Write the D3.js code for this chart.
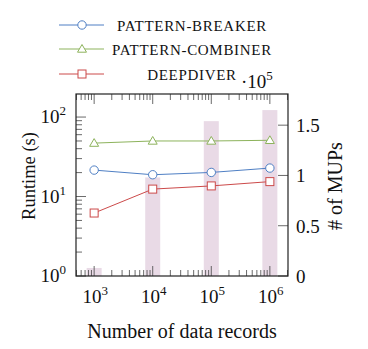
<!DOCTYPE html>
<html>
<head>
<meta charset="utf-8">
<script src="https://cdn.jsdelivr.net/npm/d3@7"></script>
<style>
  body { margin: 0; background: #fff; }
  text { font-family: "Liberation Serif", "Times New Roman", serif; fill: #111; }
</style>
</head>
<body>
<svg id="chart" width="368" height="349"></svg>
<script>
// data
const records = [1e3, 1e4, 1e5, 1e6];
const patternBreaker = [21.5, 18.8, 20.1, 22.8];
const patternCombiner = [47, 50, 50, 51];
const deepDiver = [6.2, 12.4, 13.6, 15.4];
const mups = [0.08, 0.98, 1.54, 1.65]; // x 10^5
const xTickExps = [3, 4, 5, 6];
const yTickExps = [0, 1, 2];
const rightTicks = [0, 0.5, 1, 1.5];
const rightTickLabels = ['0', '0.5', '1', '1.5'];

const series = [
  { name: 'PATTERN-BREAKER', values: patternBreaker, color: '#4f7fc4', marker: 'circle' },
  { name: 'PATTERN-COMBINER', values: patternCombiner, color: '#8db35c', marker: 'triangle' },
  { name: 'DEEPDIVER', values: deepDiver, color: '#cc4a4a', marker: 'square' }
];

const svg = d3.select('#chart');
const plot = { left: 76, right: 288, top: 94, bottom: 276 };

const x = d3.scaleLog().domain([490, 2.04e6]).range([plot.left, plot.right]);
const y = d3.scaleLog().domain([1, 195]).range([plot.bottom, plot.top]);
const y2 = d3.scaleLinear().domain([0, 1.81]).range([plot.bottom, plot.top]);

// bars (# of MUPs), behind everything
svg.append('g')
  .selectAll('rect')
  .data(records)
  .enter().append('rect')
  .attr('x', d => x(d) - 7.5)
  .attr('width', 15)
  .attr('y', (d, i) => y2(mups[i]))
  .attr('height', (d, i) => y2(0) - y2(mups[i]))
  .style('fill', '#e9dae6');

// minor tick positions
const minorX = [];
for (let e = 2; e <= 6; e++) {
  for (let m = 2; m <= 9; m++) {
    const v = m * Math.pow(10, e);
    if (v > x.domain()[0] && v < x.domain()[1]) minorX.push(v);
  }
}
const minorY = [];
for (let e = 0; e <= 2; e++) {
  for (let m = 2; m <= 9; m++) {
    const v = m * Math.pow(10, e);
    if (v < y.domain()[1]) minorY.push(v);
  }
}

const ticks = svg.append('g')
  .style('stroke', '#444')
  .style('stroke-width', 0.8);

// x ticks bottom + top (mirrored)
minorX.forEach(v => {
  ticks.append('line').attr('x1', x(v)).attr('x2', x(v)).attr('y1', plot.bottom).attr('y2', plot.bottom - 6);
  ticks.append('line').attr('x1', x(v)).attr('x2', x(v)).attr('y1', plot.top).attr('y2', plot.top + 6);
});
xTickExps.forEach(e => {
  const v = Math.pow(10, e);
  ticks.append('line').attr('x1', x(v)).attr('x2', x(v)).attr('y1', plot.bottom).attr('y2', plot.bottom - 10);
  ticks.append('line').attr('x1', x(v)).attr('x2', x(v)).attr('y1', plot.top).attr('y2', plot.top + 10);
});
// left ticks
minorY.forEach(v => {
  ticks.append('line').attr('x1', plot.left).attr('x2', plot.left + 6).attr('y1', y(v)).attr('y2', y(v));
});
yTickExps.forEach(e => {
  const v = Math.pow(10, e);
  ticks.append('line').attr('x1', plot.left).attr('x2', plot.left + 10).attr('y1', y(v)).attr('y2', y(v));
});
// right ticks
rightTicks.forEach(v => {
  ticks.append('line').attr('x1', plot.right).attr('x2', plot.right - 10).attr('y1', y2(v)).attr('y2', y2(v));
});

// frame
svg.append('rect')
  .attr('x', plot.left).attr('y', plot.top)
  .attr('width', plot.right - plot.left).attr('height', plot.bottom - plot.top)
  .style('fill', 'none').style('stroke', '#222').style('stroke-width', 1.2);

// tick labels
function powLabel(g, tx, ty, exp, anchor) {
  const t = g.append('text').attr('x', tx).attr('y', ty)
    .attr('text-anchor', anchor).style('font-size', '19px');
  t.append('tspan').text('10');
  t.append('tspan').attr('dy', -8).style('font-size', '13px').text(exp);
}
xTickExps.forEach(e => powLabel(svg, x(Math.pow(10, e)) + 1, 303, e, 'middle'));
yTickExps.forEach(e => powLabel(svg, 66, y(Math.pow(10, e)) + 6, e, 'end'));
rightTicks.forEach((v, i) => {
  svg.append('text').attr('x', 296).attr('y', y2(v) + 7)
    .style('font-size', '19px').text(rightTickLabels[i]);
});

// 10^5 multiplier
const mult = svg.append('text').attr('x', 241).attr('y', 88).style('font-size', '19px');
mult.append('tspan').text('\u00b710');
mult.append('tspan').attr('dy', -8).style('font-size', '13px').text('5');

// axis titles
svg.append('text').attr('x', 182).attr('y', 338).attr('text-anchor', 'middle')
  .style('font-size', '20px').text('Number of data records');
svg.append('text').attr('transform', 'translate(35,176) rotate(-90)')
  .attr('text-anchor', 'middle').style('font-size', '18.5px').text('Runtime (s)');
svg.append('text').attr('transform', 'translate(342,186) rotate(-90)')
  .attr('text-anchor', 'middle').style('font-size', '20px').text('# of MUPs');

// markers
function drawMarker(g, cx, cy, type, color) {
  if (type === 'circle') {
    g.append('circle').attr('cx', cx).attr('cy', cy).attr('r', 4.2)
      .style('fill', '#fff').style('stroke', color).style('stroke-width', 1);
  } else if (type === 'square') {
    g.append('rect').attr('x', cx - 4).attr('y', cy - 4).attr('width', 8).attr('height', 8)
      .style('fill', '#fff').style('stroke', color).style('stroke-width', 1);
  } else {
    g.append('path').attr('d', `M${cx},${cy - 4.5}L${cx + 4.5},${cy + 3.2}L${cx - 4.5},${cy + 3.2}Z`)
      .style('fill', '#fff').style('stroke', color).style('stroke-width', 1);
  }
}

const line = d3.line().x(d => x(d[0])).y(d => y(d[1]));
series.forEach(s => {
  const pts = records.map((r, i) => [r, s.values[i]]);
  const g = svg.append('g');
  g.append('path').attr('d', line(pts))
    .style('fill', 'none').style('stroke', s.color).style('stroke-width', 1);
  pts.forEach(p => drawMarker(g, x(p[0]), y(p[1]), s.marker, s.color));
});

// legend
const legendY = [25, 49, 74];
series.forEach((s, i) => {
  const g = svg.append('g');
  g.append('line').attr('x1', 59).attr('x2', 104).attr('y1', legendY[i]).attr('y2', legendY[i])
    .style('stroke', s.color).style('stroke-width', 1);
  drawMarker(g, 82, legendY[i], s.marker, s.color);
  g.append('text').attr('x', 192).attr('y', legendY[i] + 5.5).attr('text-anchor', 'middle')
    .style('font-size', '15px').style('letter-spacing', '0.7px').text(s.name);
});
</script>
</body>
</html>
